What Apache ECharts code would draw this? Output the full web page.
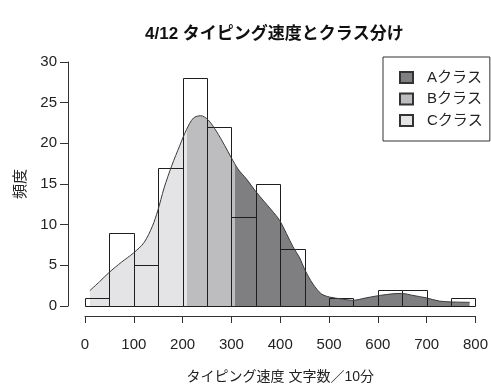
<!DOCTYPE html>
<html>
<head>
<meta charset="utf-8">
<script src="https://cdn.jsdelivr.net/npm/echarts@6/dist/echarts.min.js"></script>
<style>html,body{margin:0;padding:0;background:#fff;}#c{width:491px;height:389px;}</style>
</head>
<body>
<div id="c"></div>
<script>
// Histogram bins (width 50) and counts
var binStarts = [0,50,100,150,200,250,300,350,400,450,500,550,600,650,700,750];
var binWidth = 50;
var counts = [1,9,5,17,28,22,11,15,7,0,1,0,2,2,0,1];
// Density curve (scaled to counts)
var curveX = [10,30,49,75,99,121,138,149,162,178,194,208,222,237,252,269,286,300,314,331,351,382,399,426,440,450,467,484,501,525,549,576,604,631,648,672,699,726,750,788];
var curveY = [1.9,3.0,4.1,5.4,6.5,7.8,9.8,11.7,14.5,17.3,19.7,21.7,23.1,23.4,22.9,21.5,19.75,18.2,16.8,15.6,14.0,11.8,10.5,7.3,5.9,4.5,2.7,1.5,1.1,0.87,0.7,1.0,1.3,1.5,1.55,1.3,1.0,0.6,0.5,0.45];
// Class boundaries on the speed axis
var classNames = ['Aクラス','Bクラス','Cクラス'];
var boundaryCB = 208;
var boundaryBA = 308;
var xTicks = [0,100,200,300,400,500,600,700,800];
var yTicks = [0,5,10,15,20,25,30];

var colA = '#7f7f82', colB = '#bdbdc0', colC = '#e4e4e6';
var FONT = '"Liberation Sans","Noto Sans CJK JP",sans-serif';

var curveData = curveX.map(function(x,i){return [x, curveY[i]];});
var barData = binStarts.map(function(s,i){return [s, s+binWidth, counts[i]];});

var chart = echarts.init(document.getElementById('c'), null, {renderer:'canvas'});
chart.setOption({
  animation:false,
  backgroundColor:'#fff',
  title:{
    text:'4/12 タイピング速度とクラス分け',
    left:140, top:21,
    textStyle:{fontFamily:FONT, fontSize:17, fontWeight:'bold', color:'#111'}
  },
  grid:{left:85, top:62, width:391, height:253, containLabel:false},
  xAxis:{
    type:'value', min:xTicks[0], max:xTicks[xTicks.length-1], interval:100,
    offset:10,
    name:'タイピング速度 文字数／10分', nameLocation:'middle', nameGap:54,
    nameTextStyle:{fontFamily:FONT, fontSize:14, color:'#222'},
    axisLine:{show:true, onZero:false, lineStyle:{color:'#333', width:1}},
    axisTick:{show:true, length:7, lineStyle:{color:'#333'}},
    axisLabel:{fontFamily:FONT, fontSize:15, color:'#222', margin:21},
    splitLine:{show:false}
  },
  yAxis:{
    type:'value', min:yTicks[0], max:yTicks[yTicks.length-1], interval:5,
    offset:17,
    name:'頻度', nameLocation:'middle', nameGap:40, nameRotate:90,
    nameTextStyle:{fontFamily:FONT, fontSize:15, color:'#222'},
    axisLine:{show:true, onZero:false, lineStyle:{color:'#333', width:1}},
    axisTick:{show:true, length:8, lineStyle:{color:'#333'}},
    axisLabel:{fontFamily:FONT, fontSize:15, color:'#222', margin:11},
    splitLine:{show:false}
  },
  visualMap:{
    type:'piecewise', show:false, dimension:0, seriesIndex:0,
    pieces:[
      {lt:boundaryCB, color:colC},
      {gte:boundaryCB, lt:boundaryBA, color:colB},
      {gte:boundaryBA, color:colA}
    ]
  },
  legend:{
    orient:'vertical', left:383, top:57,
    data:classNames,
    selectedMode:false,
    borderColor:'#333', borderWidth:1, borderRadius:0,
    padding:[13,7,13,16],
    itemWidth:13, itemHeight:11, itemGap:6.5,
    icon:'rect',
    textStyle:{fontFamily:FONT, fontSize:15, color:'#222', padding:[0,0,0,9]}
  },
  series:[
    {
      type:'line', data:curveData, smooth:0.3, symbol:'none',
      lineStyle:{width:0, opacity:0},
      areaStyle:{opacity:1}, z:1, silent:true
    },
    {
      type:'custom', z:3, silent:true,
      renderItem:function(params, api){
        var p0 = api.coord([api.value(0), api.value(2)]);
        var p1 = api.coord([api.value(1), 0]);
        var x0 = Math.round(p0[0])+0.5, x1 = Math.round(p1[0])+0.5;
        var y0 = Math.round(p0[1])+0.5, y1 = Math.round(p1[1])+0.5;
        return {type:'rect', shape:{x:x0, y:y0, width:x1-x0, height:y1-y0},
          style:{fill:null, stroke:'#1e1e1e', lineWidth:1}};
      },
      encode:{x:[0,1], y:2},
      data:barData, clip:false
    },
    {
      type:'line', data:curveData, smooth:0.3, symbol:'none',
      lineStyle:{color:'#3a3a3a', width:1}, z:4, silent:true
    },
    {name:classNames[0], type:'bar', data:[], itemStyle:{color:colA, borderColor:'#333', borderWidth:1}},
    {name:classNames[1], type:'bar', data:[], itemStyle:{color:colB, borderColor:'#333', borderWidth:1}},
    {name:classNames[2], type:'bar', data:[], itemStyle:{color:colC, borderColor:'#333', borderWidth:1}}
  ]
});
</script>
</body>
</html>
